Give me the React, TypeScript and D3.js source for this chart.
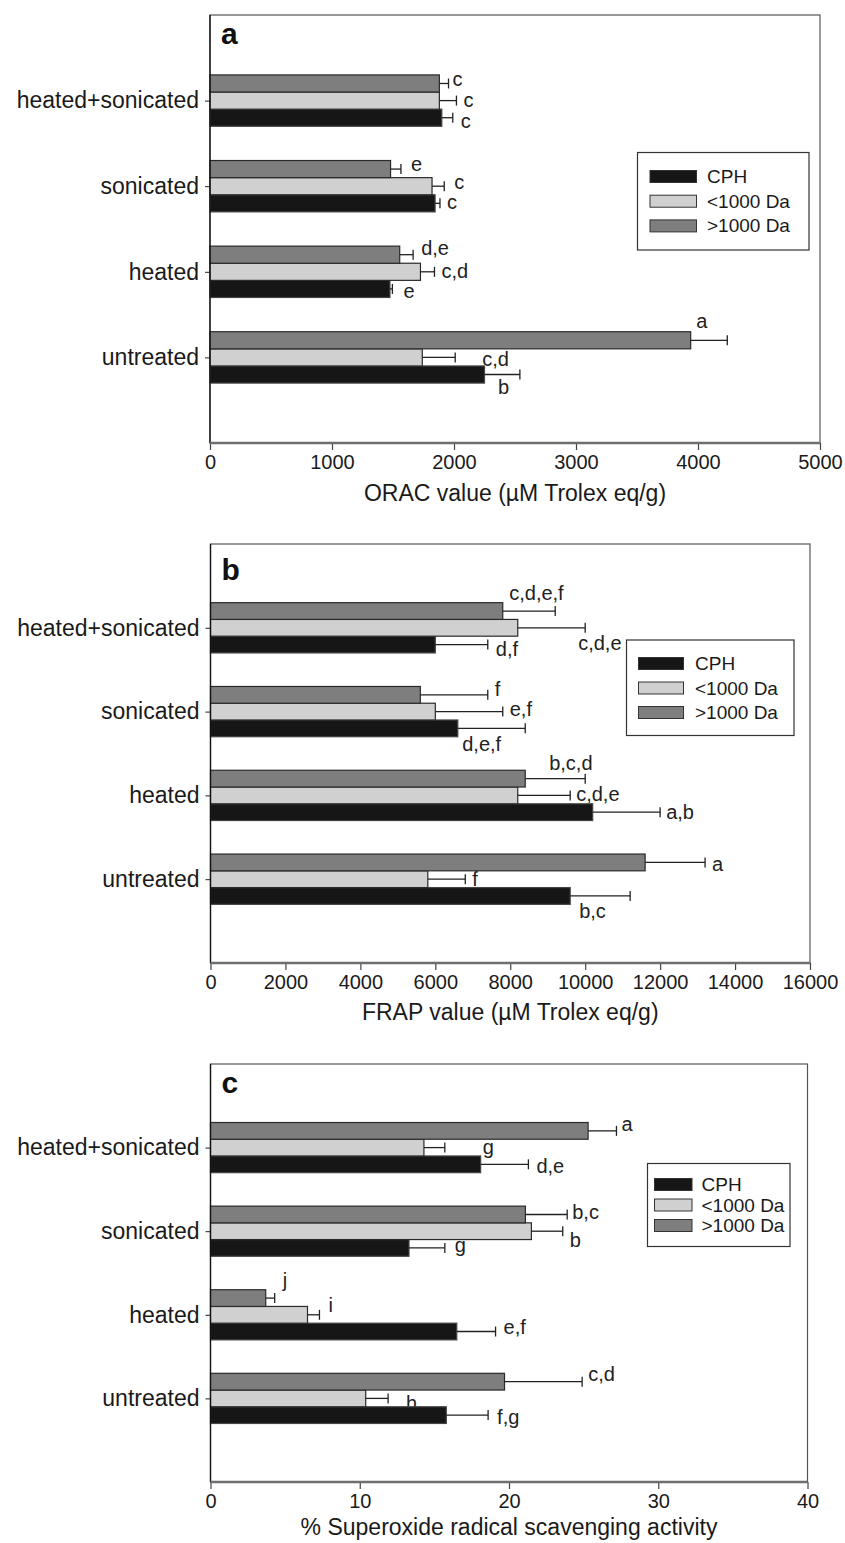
import { useEffect, useRef } from 'react';
import * as d3 from 'd3';

const categories = ['untreated', 'heated', 'sonicated', 'heated+sonicated'];
const seriesNames = ['CPH', '<1000 Da', '>1000 Da'];

// ORAC (panel a)
const oracCPH = [2250, 1475, 1845, 1900];
const oracCPHErr = [290, 20, 40, 90];
const oracLow = [1740, 1725, 1820, 1880];
const oracLowErr = [270, 115, 100, 140];
const oracHigh = [3940, 1555, 1480, 1880];
const oracHighErr = [300, 110, 85, 75];
const oracCPHLetters = ['b', 'e', 'c', 'c'];
const oracLowLetters = ['c,d', 'c,d', 'c', 'c'];
const oracHighLetters = ['a', 'd,e', 'e', 'c'];
const oracTicks = [0, 1000, 2000, 3000, 4000, 5000];

// FRAP (panel b)
const frapCPH = [9600, 10200, 6600, 6000];
const frapCPHErr = [1600, 1800, 1800, 1400];
const frapLow = [5800, 8200, 6000, 8200];
const frapLowErr = [1000, 1400, 1800, 1800];
const frapHigh = [11600, 8400, 5600, 7800];
const frapHighErr = [1600, 1600, 1800, 1400];
const frapCPHLetters = ['b,c', 'a,b', 'd,e,f', 'd,f'];
const frapLowLetters = ['f', 'c,d,e', 'e,f', 'c,d,e'];
const frapHighLetters = ['a', 'b,c,d', 'f', 'c,d,e,f'];
const frapTicks = [0, 2000, 4000, 6000, 8000, 10000, 12000, 14000, 16000];

// Superoxide (panel c)
const supCPH = [15.8, 16.5, 13.3, 18.1];
const supCPHErr = [2.8, 2.6, 2.4, 3.2];
const supLow = [10.4, 6.5, 21.5, 14.3];
const supLowErr = [1.5, 0.8, 2.1, 1.4];
const supHigh = [19.7, 3.7, 21.1, 25.3];
const supHighErr = [5.2, 0.6, 2.8, 1.9];
const supCPHLetters = ['f,g', 'e,f', 'g', 'd,e'];
const supLowLetters = ['h', 'i', 'b', 'g'];
const supHighLetters = ['c,d', 'j', 'b,c', 'a'];
const supTicks = [0, 10, 20, 30, 40];

const colors = { 'CPH': '#161616', '<1000 Da': '#d0d0d0', '>1000 Da': '#7e7e7e' };
const FONT = '"Liberation Sans", Arial, Helvetica, sans-serif';

// label nudges [dx from cap, dy from bar centre], per category
const panels = [
  {
    letter: 'a', letterDy: 28.5, top: 15, bottom: 443, x0: 210, x1: 820, titleDy: 58,
    ticks: oracTicks, title: 'ORAC value (\u00b5M Trolex eq/g)',
    values: [oracCPH, oracLow, oracHigh], errs: [oracCPHErr, oracLowErr, oracHighErr],
    letters: [oracCPHLetters, oracLowLetters, oracHighLetters],
    nudges: [
      [[-22, 13.5], [11, 3], [7, 0], [8, 4]],
      [[27, 3], [7, 0], [10, -3], [7, 0]],
      [[-31, -18], [8, -6], [10, -4], [4, -3.5]]
    ],
    legend: { x: 637.5, y: 152.5, w: 171.5, h: 97.5, sx: 650, sw: 46.5, sy: 170.5, gap: 24.7, tx: 707 }
  },
  {
    letter: 'b', letterDy: 36, top: 544, bottom: 963, x0: 210.5, x1: 810, titleDy: 57,
    ticks: frapTicks, title: 'FRAP value (\u00b5M Trolex eq/g)',
    values: [frapCPH, frapLow, frapHigh], errs: [frapCPHErr, frapLowErr, frapHighErr],
    letters: [frapCPHLetters, frapLowLetters, frapHighLetters],
    nudges: [
      [[-51, 16.5], [6, 1], [-63, 16.5], [8, 5]],
      [[7, 1], [6, 0], [7, -2], [-7, 16]],
      [[7, 2.5], [-36, -15], [7, -5], [-46, -17]]
    ],
    legend: { x: 626.5, y: 640, w: 167.5, h: 95.5, sx: 638.5, sw: 45, sy: 657.5, gap: 24.5, tx: 695 }
  },
  {
    letter: 'c', letterDy: 28.5, top: 1064, bottom: 1482, x0: 210.5, x1: 807.5, titleDy: 53,
    ticks: supTicks, title: '% Superoxide radical scavenging activity',
    values: [supCPH, supLow, supHigh], errs: [supCPHErr, supLowErr, supHighErr],
    letters: [supCPHLetters, supLowLetters, supHighLetters],
    nudges: [
      [[9, 2.5], [8, -4], [10, -2], [8, 3]],
      [[18, 6], [9, -9], [7, 10], [38, 0]],
      [[6, -7], [8, -17], [5, -1], [5, -6]]
    ],
    legend: { x: 647.5, y: 1163.5, w: 142.5, h: 83, sx: 654.5, sw: 37.5, sy: 1178.5, gap: 20.5, tx: 701.5 }
  }
];

export default function App() {
  const svgRef = useRef(null);

  useEffect(() => {
    const svg = d3.select(svgRef.current);
    svg.selectAll('*').remove();

    panels.forEach(p => {
      const g = svg.append('g');
      const xMax = p.ticks[p.ticks.length - 1];

      const x = d3.scaleLinear().domain([0, xMax]).range([p.x0, p.x1]);
      const y = d3.scalePoint().domain(categories).range([p.bottom, p.top]).padding(1);
      const step = y.step();
      // top to bottom inside a group: >1000, <1000, CPH
      const yInner = d3.scaleBand()
        .domain(['>1000 Da', '<1000 Da', 'CPH'])
        .range([-0.3 * step, 0.3 * step]);
      const bh = yInner.bandwidth();

      // frame
      g.append('rect')
        .attr('x', p.x0).attr('y', p.top)
        .attr('width', p.x1 - p.x0).attr('height', p.bottom - p.top)
        .attr('fill', 'none').attr('stroke', '#555').attr('stroke-width', 1.2);

      // panel letter
      g.append('text')
        .attr('x', p.x0 + 11).attr('y', p.top + p.letterDy)
        .attr('font-family', FONT).attr('font-weight', 'bold')
        .attr('font-size', 30).attr('fill', '#111')
        .text(p.letter);

      // significance letters (drawn under the bars, like the original)
      seriesNames.forEach((s, si) => {
        categories.forEach((c, ci) => {
          const cap = x(p.values[si][ci] + p.errs[si][ci]);
          const cy = y(c) + yInner(s) + bh / 2;
          const [dx, dy] = p.nudges[si][ci];
          g.append('text')
            .attr('x', cap + dx).attr('y', cy + dy + 6)
            .attr('font-family', FONT).attr('font-size', 20).attr('fill', '#222')
            .text(p.letters[si][ci]);
        });
      });

      // bars
      seriesNames.forEach((s, si) => {
        g.selectAll(null)
          .data(categories)
          .enter()
          .append('rect')
          .attr('x', x(0))
          .attr('y', c => y(c) + yInner(s))
          .attr('width', (c, i) => x(p.values[si][i]) - x(0))
          .attr('height', bh)
          .attr('fill', colors[s])
          .attr('stroke', s === 'CPH' ? '#444' : '#2a2a2a')
          .attr('stroke-width', 1.2);
      });

      // error bars
      seriesNames.forEach((s, si) => {
        categories.forEach((c, ci) => {
          const x1 = x(p.values[si][ci]);
          const x2 = x(p.values[si][ci] + p.errs[si][ci]);
          const cy = y(c) + yInner(s) + bh / 2;
          g.append('line')
            .attr('x1', x1).attr('x2', x2).attr('y1', cy).attr('y2', cy)
            .attr('stroke', '#222').attr('stroke-width', 1.3);
          g.append('line')
            .attr('x1', x2).attr('x2', x2).attr('y1', cy - 5).attr('y2', cy + 5)
            .attr('stroke', '#222').attr('stroke-width', 1.3);
        });
      });

      // y axis
      const yAxis = g.append('g')
        .attr('transform', `translate(${p.x0},0)`)
        .call(d3.axisLeft(y).tickSize(5).tickPadding(6));
      yAxis.select('.domain').remove();
      yAxis.selectAll('line').attr('stroke', '#222');
      yAxis.selectAll('text')
        .attr('font-family', FONT).attr('font-size', 23).attr('fill', '#1a1a1a');
      g.append('line')
        .attr('x1', p.x0).attr('x2', p.x0).attr('y1', p.top).attr('y2', p.bottom)
        .attr('stroke', '#111').attr('stroke-width', 1.3);

      // x axis
      const xAxis = g.append('g')
        .attr('transform', `translate(0,${p.bottom})`)
        .call(d3.axisBottom(x).tickValues(p.ticks).tickSize(7).tickPadding(5).tickFormat(d3.format('d')));
      xAxis.select('.domain').remove();
      xAxis.selectAll('line').attr('stroke', '#444').attr('stroke-width', 1.2);
      xAxis.selectAll('text')
        .attr('font-family', FONT).attr('font-size', 20).attr('fill', '#1a1a1a');
      g.append('line')
        .attr('x1', p.x0).attr('x2', p.x1).attr('y1', p.bottom).attr('y2', p.bottom)
        .attr('stroke', '#6e6e6e').attr('stroke-width', 2.5);

      g.append('text')
        .attr('x', (p.x0 + p.x1) / 2).attr('y', p.bottom + p.titleDy)
        .attr('text-anchor', 'middle')
        .attr('font-family', FONT).attr('font-size', 23).attr('fill', '#1a1a1a')
        .text(p.title);

      // legend
      const L = p.legend;
      const lg = g.append('g');
      lg.append('rect')
        .attr('x', L.x).attr('y', L.y).attr('width', L.w).attr('height', L.h)
        .attr('fill', '#fff').attr('stroke', '#333').attr('stroke-width', 1.2);
      seriesNames.forEach((s, i) => {
        const ry = L.sy + i * L.gap;
        lg.append('rect')
          .attr('x', L.sx).attr('y', ry).attr('width', L.sw).attr('height', 12)
          .attr('fill', colors[s]).attr('stroke', '#333').attr('stroke-width', 1);
        lg.append('text')
          .attr('x', L.tx).attr('y', ry + 12.5)
          .attr('font-family', FONT).attr('font-size', 19).attr('fill', '#1a1a1a')
          .text(s);
      });
    });
  }, []);

  return (
    <svg
      ref={svgRef}
      width={845}
      height={1543}
      style={{ position: 'absolute', left: 0, top: 0, background: '#fff' }}
    />
  );
}
